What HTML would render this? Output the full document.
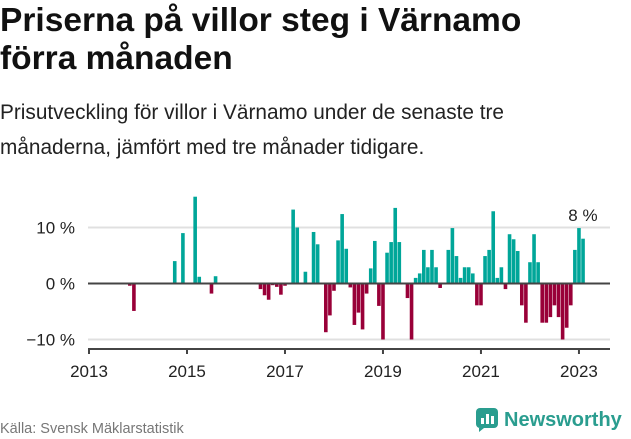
<!DOCTYPE html>
<html><head><meta charset="utf-8"><style>
body{margin:0;width:631px;height:439px;background:#fff;font-family:"Liberation Sans","DejaVu Sans",sans-serif;overflow:hidden;position:relative}
h1{position:absolute;left:0;top:2px;margin:0;font-size:33.5px;line-height:38px;font-weight:bold;color:#111;width:631px;white-space:nowrap}
.sub{position:absolute;left:0;top:95px;font-size:20.8px;line-height:35px;color:#222;width:630px;white-space:nowrap}
.src{position:absolute;left:0;top:421px;font-size:14.5px;color:#777}
.logo{position:absolute;left:476px;top:408px;display:flex;align-items:center;font-size:20px;font-weight:bold;color:#2a9d8f}
</style></head><body>
<h1>Priserna på villor steg i Värnamo<br>förra månaden</h1>
<div class="sub">Prisutveckling för villor i Värnamo under de senaste tre<br>månaderna, jämfört med tre månader tidigare.</div>
<svg id="c" width="631" height="439" style="position:absolute;left:0;top:0"></svg>
<div class="src">Källa: Svensk Mäklarstatistik</div>
<div class="logo"><svg width="22" height="24" style="margin-right:6px"><rect x="0" y="0" width="22" height="20" rx="4" fill="#2a9d8f"/><polygon points="3,20 3,24 8,20" fill="#2a9d8f"/><rect x="5" y="10" width="3" height="6" fill="#fff"/><rect x="10" y="6" width="3" height="10" fill="#fff"/><rect x="15" y="8" width="3" height="8" fill="#fff"/></svg>Newsworthy</div>
<script>
const months=[10,11,21,23,26,27,30,31,42,43,44,45,46,47,48,50,51,53,55,56,58,59,60,61,62,63,64,65,66,67,68,69,70,71,72,73,74,75,76,78,79,80,81,82,83,84,85,86,88,89,90,91,92,93,94,95,96,97,98,99,100,101,102,103,104,105,106,107,108,109,110,111,112,113,114,115,116,117,118,119,120,121];
const values=[-0.4,-4.9,4.0,9.0,15.5,1.2,-1.8,1.3,-1.0,-2.1,-2.9,-0.3,-0.6,-2.0,-0.4,13.2,10.0,2.1,9.2,7.0,-8.7,-5.7,-1.3,7.7,12.4,6.2,-0.7,-7.4,-5.2,-8.2,-1.8,2.7,7.6,-4.0,-10.0,5.5,7.4,13.5,7.4,-2.6,-10.0,1.0,1.8,6.0,2.9,6.0,2.9,-0.8,6.0,9.9,4.9,1.0,2.9,2.9,1.8,-3.9,-3.9,4.9,6.0,12.9,1.0,2.9,-1.0,8.8,7.9,5.8,-3.9,-7.0,3.8,8.8,3.8,-7.0,-7.0,-6.0,-3.9,-6.0,-10.0,-7.9,-3.9,6.0,9.9,8.0];
const yTicks=[10,0,-10];
const yLabels=["10 %","0 %","\u221210 %"];
const xYears=[2013,2015,2017,2019,2021,2023];
const svg=document.getElementById('c');const NS='http://www.w3.org/2000/svg';
const x=m=>89+m*4.083;const y=v=>283.5-v*5.6;
function mk(t,a){const e=document.createElementNS(NS,t);for(const k in a)e.setAttribute(k,a[k]);svg.appendChild(e);return e;}
yTicks.forEach((t,i)=>{if(t!==0){const g=mk('line',{x1:88,x2:610,y1:y(t),y2:y(t),stroke:'#e0e0e0','stroke-width':2});

}
const l=mk('text',{x:75,y:y(t)+6,'text-anchor':'end','font-size':17,fill:'#222','font-family':'Liberation Sans, sans-serif'});l.textContent=yLabels[i];

});
months.forEach((m,i)=>{const v=values[i];const b=mk('rect',{x:x(m)-1.8,width:3.6,y:Math.min(y(v),y(0)),height:Math.abs(y(v)-y(0)),fill:v>=0?'#00a699':'#990038'});

});
const z=mk('line',{x1:88,x2:610,y1:y(0),y2:y(0),stroke:'#444','stroke-width':2});


const ax=mk('line',{x1:88,x2:610,y1:349,y2:349,stroke:'#444','stroke-width':2});


xYears.forEach(yr=>{const px=x((yr-2013)*12);const tk=mk('line',{x1:px,x2:px,y1:349,y2:354,stroke:'#444','stroke-width':2});


const t=mk('text',{x:px,y:377,'text-anchor':'middle','font-size':17,fill:'#222','font-family':'Liberation Sans, sans-serif'});t.textContent=yr;

});
const li=months.length-2;const lab=mk('text',{x:x(months[li])+4,y:y(values[li])-7,'text-anchor':'middle','font-size':17,fill:'#222','font-family':'Liberation Sans, sans-serif'});lab.textContent=Math.round(values[values.length-1])+' %';


</script>
</body></html>
